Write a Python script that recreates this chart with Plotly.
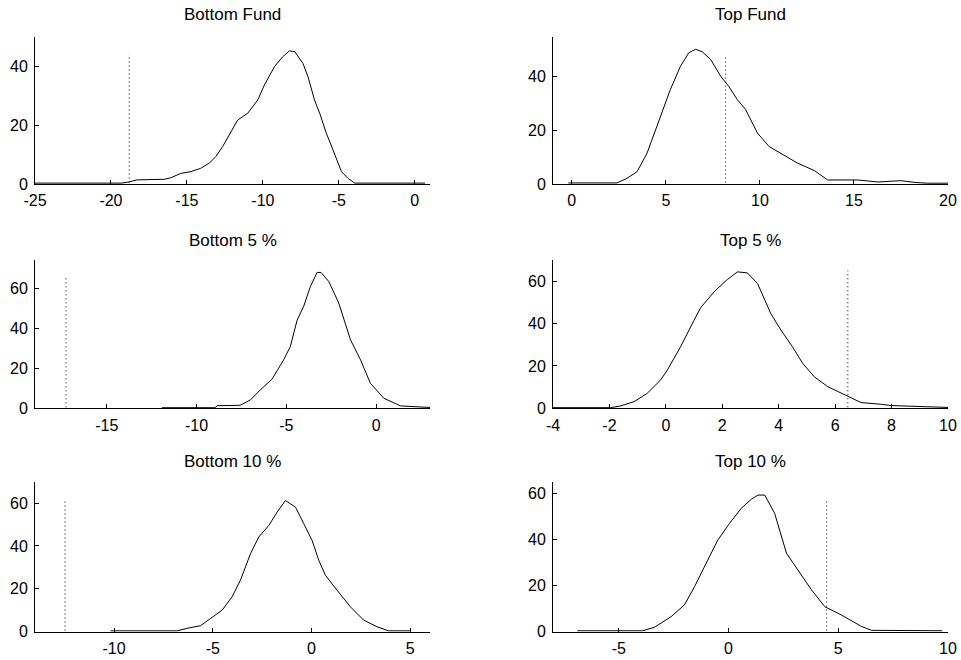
import plotly.graph_objects as go

# ---------------- data ----------------
titles = ["Bottom Fund", "Top Fund", "Bottom 5 %", "Top 5 %", "Bottom 10 %", "Top 10 %"]

bf_x = [-25, -19.3, -18.8, -18.3, -16.5, -16.07, -15.4, -14.75, -14.1, -13.5, -13.1, -12.65, -12.1,
        -11.66, -11.0, -10.34, -9.9, -9.24, -8.7, -8.25, -7.9, -7.36, -7.03, -6.6, -6.26, -5.82,
        -5.38, -4.83, -4.39, -3.95, 0.68]
bf_y = [0.3, 0.3, 0.7, 1.4, 1.6, 2.1, 3.6, 4.2, 5.3, 7.2, 9.3, 12.7, 17.7,
        21.7, 24.0, 28.5, 33.6, 39.8, 43.2, 45.2, 44.9, 40.9, 36.4, 28.5, 24.0, 17.2,
        11.5, 4.2, 1.9, 0.3, 0.3]
bf_cut, bf_h = -18.8, 44

tf_x = [-0.18, 2.4, 2.93, 3.47, 4.0, 4.53, 5.24, 5.78, 6.22, 6.58, 6.93, 7.38, 7.91, 8.36, 8.8,
        9.24, 9.87, 10.49, 11.1, 12.0, 12.9, 13.6, 15.2, 16.27, 17.5, 18.2, 18.9, 20.0]
tf_y = [0.4, 0.4, 2.1, 4.6, 11.5, 21.5, 35.3, 44.0, 49.0, 50.3, 49.4, 46.5, 40.3, 36.3, 31.5,
        27.8, 19.0, 14.0, 11.5, 7.8, 5.0, 1.5, 1.5, 0.75, 1.25, 0.6, 0.3, 0.3]
tf_cut, tf_h = 8.18, 48.3

b5_x = [-11.93, -8.96, -8.87, -7.57, -7.0, -6.45, -5.8, -5.15, -4.78, -4.4, -4.03, -3.66, -3.29,
        -3.07, -2.64, -2.08, -1.43, -0.87, -0.32, 0.43, 1.36, 3.03]
b5_y = [0.3, 0.3, 1.3, 1.5, 4.2, 9.2, 14.5, 24.2, 30.8, 44.0, 51.0, 60.8, 67.8,
        67.8, 63.3, 52.5, 34.2, 24.2, 12.5, 5.0, 1.2, 0.4]
b5_cut, b5_h = -17.27, 65

t5_x = [-4, -1.96, -1.61, -1.13, -0.66, -0.19, 0.05, 0.52, 1.0, 1.24, 1.71, 2.18, 2.54, 2.89,
        3.25, 3.72, 4.08, 4.49, 4.85, 5.26, 5.74, 6.45, 6.92, 7.63, 7.99, 10]
t5_y = [0.3, 0.3, 1.1, 3.1, 7.1, 13.3, 18.0, 29.0, 41.6, 47.6, 55.0, 60.8, 64.4, 63.9,
        58.9, 44.7, 36.9, 29.0, 21.2, 14.9, 10.2, 5.5, 2.7, 1.9, 1.3, 0.4]
t5_cut, t5_h = 6.45, 65

b10_x = [-10.17, -6.8, -6.29, -5.62, -5.11, -4.52, -4.02, -3.6, -3.09, -2.67, -2.16, -1.74, -1.32,
         -0.81, -0.39, 0.03, 0.37, 0.7, 1.29, 1.97, 2.64, 3.32, 3.9, 5.0]
b10_y = [0.4, 0.4, 1.6, 2.8, 6.2, 10.1, 16.3, 24.0, 36.4, 44.2, 49.6, 55.8, 61.2,
         58.1, 50.4, 42.6, 33.3, 26.4, 19.4, 11.6, 5.4, 2.3, 0.4, 0.4]
b10_cut, b10_h = -12.48, 61

t10_x = [-6.89, -3.92, -3.38, -2.62, -2.01, -1.55, -0.95, -0.49, 0.05, 0.58, 1.04, 1.34, 1.65,
         2.1, 2.64, 3.17, 3.78, 4.39, 5.15, 6.07, 6.52, 9.73]
t10_y = [0.4, 0.4, 1.9, 6.5, 11.6, 19.5, 31.0, 39.7, 47.0, 53.5, 57.4, 59.2, 59.2,
         51.3, 34.0, 26.7, 18.1, 10.8, 7.2, 2.2, 0.6, 0.4]
t10_cut, t10_h = 4.47, 56.7

# axis ranges and tick labels
x_ranges = [[-25, 1], [-1, 20], [-19, 3], [-4, 10], [-14, 6], [-8, 10]]
y_ranges = [[0, 50], [0, 55], [0, 74], [0, 70], [0, 70], [0, 65]]
x_tickvals = [[-25, -20, -15, -10, -5, 0], [0, 5, 10, 15, 20], [-15, -10, -5, 0],
              [-4, -2, 0, 2, 4, 6, 8, 10], [-10, -5, 0, 5], [-5, 0, 5, 10]]
x_ticktext = [["-25", "-20", "-15", "-10", "-5", "0"], ["0", "5", "10", "15", "20"],
              ["-15", "-10", "-5", "0"], ["-4", "-2", "0", "2", "4", "6", "8", "10"],
              ["-10", "-5", "0", "5"], ["-5", "0", "5", "10"]]
y_tickvals = [[0, 20, 40], [0, 20, 40], [0, 20, 40, 60], [0, 20, 40, 60], [0, 20, 40, 60], [0, 20, 40, 60]]

curves = [(bf_x, bf_y, bf_cut, bf_h), (tf_x, tf_y, tf_cut, tf_h), (b5_x, b5_y, b5_cut, b5_h),
          (t5_x, t5_y, t5_cut, t5_h), (b10_x, b10_y, b10_cut, b10_h), (t10_x, t10_y, t10_cut, t10_h)]

# ---------------- layout geometry ----------------
W, H = 961, 660
col_dom = [[35 / W, 430 / W], [553 / W, 948 / W]]
row_dom = [[1 - 184 / H, 1 - 36.7 / H], [1 - 408.3 / H, 1 - 260 / H], [1 - 631.7 / H, 1 - 481.7 / H]]
title_y = [1 - 15 / H, 1 - 240 / H, 1 - 461.7 / H]

FONT = "Liberation Sans, Arial, sans-serif"
fig = go.Figure()
annotations = []
for i, (cx, cy, cut, h) in enumerate(curves):
    r, c = divmod(i, 2)
    n = "" if i == 0 else str(i + 1)
    fig.add_trace(go.Scatter(x=cx, y=cy, mode="lines", line=dict(color="black", width=1),
                             xaxis="x" + n, yaxis="y" + n, showlegend=False, hoverinfo="skip"))
    fig.add_trace(go.Scatter(x=[cut, cut], y=[0.5, h], mode="lines",
                             line=dict(color="black", width=1, dash="1px,3px"),
                             xaxis="x" + n, yaxis="y" + n, showlegend=False, hoverinfo="skip"))
    common = dict(showgrid=False, zeroline=False, showline=True, linecolor="black", linewidth=1,
                  ticks="inside", ticklen=4, tickcolor="black", tickwidth=1, automargin=False,
                  tickfont=dict(family=FONT, size=16, color="black"), fixedrange=True)
    fig.update_layout(**{
        "xaxis" + n: dict(domain=col_dom[c], anchor="y" + n, range=x_ranges[i], ticklabelstandoff=2,
                          tickmode="array", tickvals=x_tickvals[i], ticktext=x_ticktext[i], **common),
        "yaxis" + n: dict(domain=row_dom[r], anchor="x" + n, range=y_ranges[i], ticklabelstandoff=3,
                          tickmode="array", tickvals=y_tickvals[i],
                          ticktext=[str(v) for v in y_tickvals[i]], **common),
    })
    annotations.append(dict(text=titles[i], xref="paper", yref="paper",
                            x=sum(col_dom[c]) / 2, y=title_y[r], xanchor="center", yanchor="middle",
                            showarrow=False, font=dict(family=FONT, size=17, color="black")))

fig.update_layout(width=W, height=H, margin=dict(l=0, r=0, t=0, b=0),
                  paper_bgcolor="white", plot_bgcolor="white", annotations=annotations,
                  showlegend=False)
fig.write_html("out.html", config={"displayModeBar": False})
